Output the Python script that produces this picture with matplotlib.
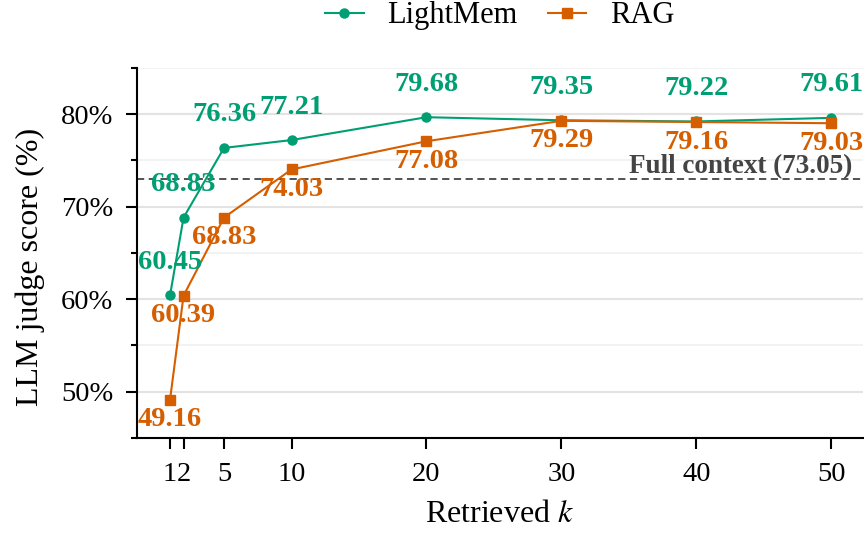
import matplotlib
matplotlib.use("Agg")
import matplotlib.pyplot as plt
from matplotlib.ticker import MultipleLocator, FuncFormatter

k_values = [1, 2, 5, 10, 20, 30, 40, 50]
lightmem = [60.45, 68.83, 76.36, 77.21, 79.68, 79.35, 79.22, 79.61]
rag = [49.16, 60.39, 68.83, 74.03, 77.08, 79.29, 79.16, 79.03]
full_context = 73.05
x_ticks = [1, 2, 5, 10, 20, 30, 40, 50]

plt.rcParams['font.family'] = ['Liberation Serif', 'DejaVu Serif']
plt.rcParams['mathtext.fontset'] = 'stix'

green = '#009E73'
orange = '#D55E00'

fig = plt.figure(figsize=(8.64, 5.33), dpi=100)
ax = fig.add_axes([137/864, 1-438/533, (863-137)/864, (438-68)/533])

ax.plot(k_values, lightmem, color=green, marker='o', markersize=6.5, lw=1.5, label='LightMem', zorder=3)
ax.plot(k_values, rag, color=orange, marker='s', markersize=7, lw=1.5, label='RAG', zorder=3)
ax.axhline(full_context, color='#444444', lw=1.3, ls=(0, (4, 2.5)), zorder=2)

for x, y in zip(k_values, lightmem):
    ax.annotate(f'{y:.2f}', (x, y), xytext=(0, 33), textcoords='offset pixels',
                ha='center', va='center', color=green, fontsize=20.5, fontweight='bold', zorder=4)
for x, y in zip(k_values, rag):
    ax.annotate(f'{y:.2f}', (x, y), xytext=(0, -20), textcoords='offset pixels',
                ha='center', va='center', color=orange, fontsize=20.5, fontweight='bold', zorder=4)

ax.annotate(f'Full context ({full_context:.2f})', (0.986, full_context), xycoords=('axes fraction', 'data'),
            xytext=(0, 12), textcoords='offset pixels', ha='right', va='center',
            color='#444444', fontsize=19.5, fontweight='bold', zorder=4)

ax.set_xlim(-1.45, 52.35)
ax.set_ylim(45, 85)
ax.set_xticks(x_ticks)
ax.set_xticklabels([str(v) for v in x_ticks])
ax.yaxis.set_major_locator(MultipleLocator(10))
ax.yaxis.set_minor_locator(MultipleLocator(5))
ax.yaxis.set_major_formatter(FuncFormatter(lambda v, p: f'{v:.0f}%'))

ax.grid(axis='y', which='major', color='#e3e3e3', lw=1.5, zorder=0)
ax.grid(axis='y', which='minor', color='#f0f0f0', lw=1.2, zorder=0)
ax.set_axisbelow(True)

for s in ['top', 'right']:
    ax.spines[s].set_visible(False)
for s in ['left', 'bottom']:
    ax.spines[s].set_linewidth(1.5)

ax.tick_params(axis='both', which='major', length=8, width=1.5, labelsize=20.5, direction='out')
ax.tick_params(axis='y', which='major', pad=9)
ax.tick_params(axis='x', which='major', pad=9.5)
ax.tick_params(axis='y', which='minor', length=4.5, width=1.5)

ax.set_ylabel('LLM judge score (%)', fontsize=23)
ax.set_xlabel('Retrieved $k$', fontsize=23)
ax.yaxis.set_label_coords(30/864, 0.5, transform=fig.transFigure)
ax.xaxis.set_label_coords(500/864, 1-514/533, transform=fig.transFigure)
ax.xaxis.label.set_va('center')
ax.yaxis.label.set_va('center')

fig.legend(*ax.get_legend_handles_labels(), loc='center', bbox_to_anchor=(500/864, 1-16/533), ncol=2,
           frameon=False, fontsize=22, handlelength=1.25, columnspacing=1.0, handletextpad=0.78)

fig.savefig('out.png', dpi=100)
